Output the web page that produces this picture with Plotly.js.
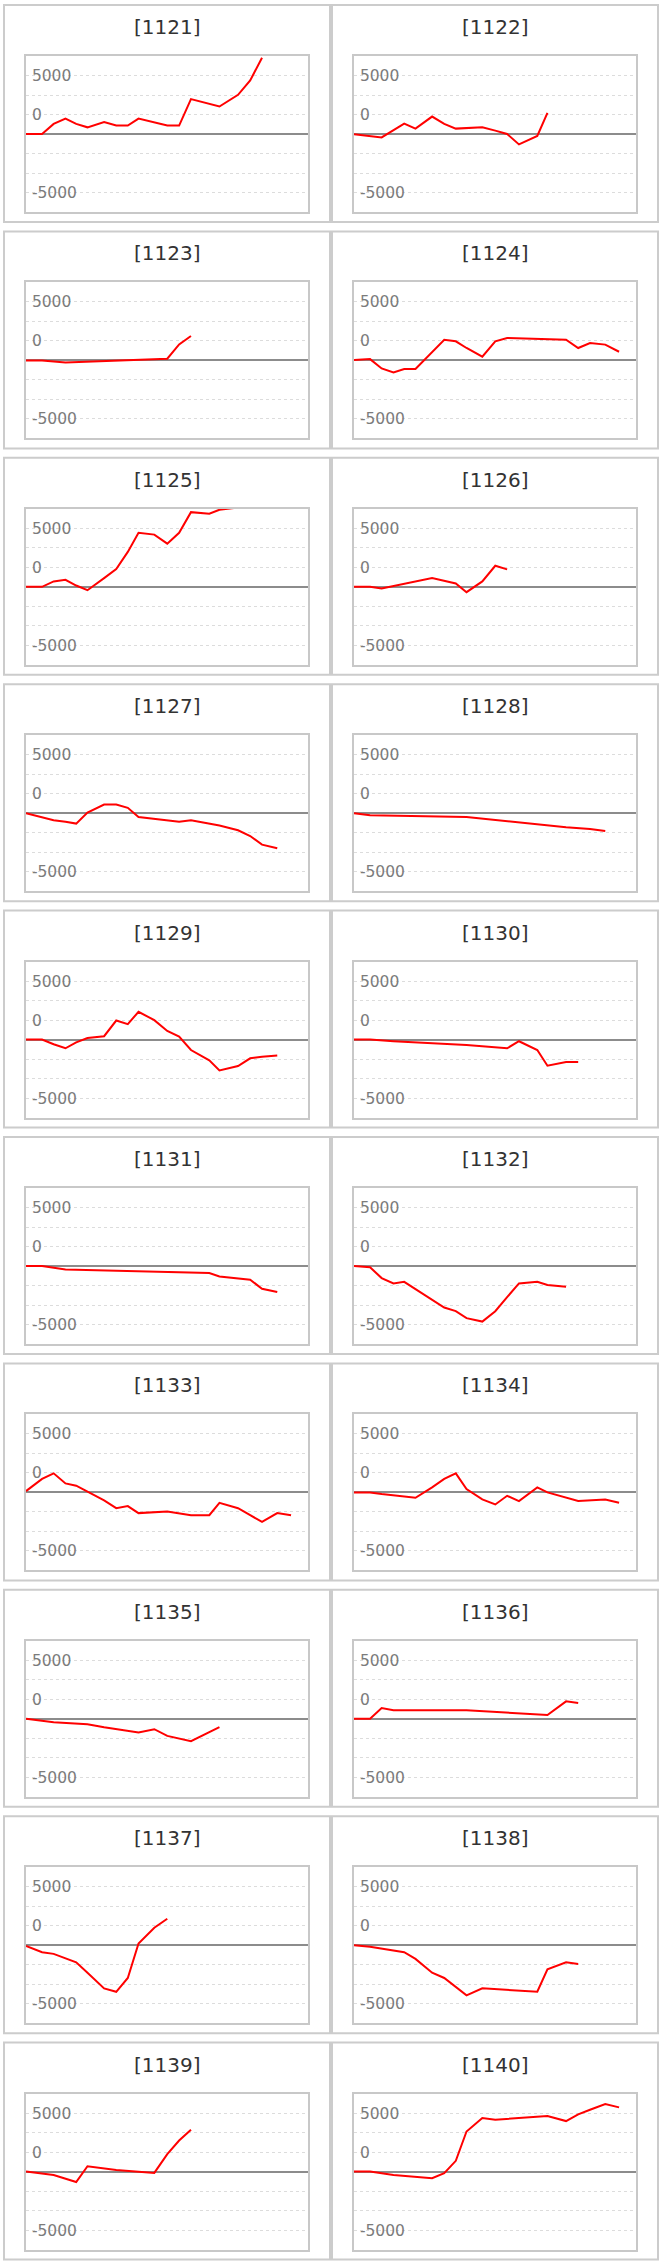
<!DOCTYPE html>
<html>
<head>
<meta charset="utf-8">
<script src="https://cdn.plot.ly/plotly-3.0.1.min.js"></script>
<style>
  html, body { margin: 0; padding: 0; background: #fff; }
  #charts { width: 662px; height: 2264px; }
</style>
</head>
<body>
<div id="charts"></div>
<script>
// x positions of the sampled days, as % of the time axis
const days = [0, 5.7, 9.8, 14.0, 17.8, 21.8, 27.7, 32.0, 36.1, 39.9, 45.5, 50.1, 54.3, 58.5, 65.0, 68.6, 75.2, 79.5, 83.7, 89.1, 94.0];

const codes = ['1121', '1122', '1123', '1124', '1125', '1126', '1127', '1128', '1129', '1130',
               '1131', '1132', '1133', '1134', '1135', '1136', '1137', '1138', '1139', '1140'];

// one series per code, null = no sample that day
const s1121 = [0, 0, 860, 1320, 860, 570, 1030, 720, 720, 1320, null, 720, 720, 2980, null, 2350, 3350, 4580, 6520, null, null];
const s1122 = [-30, null, -290, null, 890, 460, 1490, 860, 460, null, 570, 290, 0, -890, -170, 1800, null, null, null, null, null];
const s1123 = [0, 0, null, -170, null, -90, null, null, null, null, null, 140, 1370, 2090, null, null, null, null, null, null, null];
const s1124 = [30, 110, -690, -1030, -740, -740, null, 1770, 1630, 1060, 320, 1630, 1920, null, null, null, 1770, 1060, 1490, 1350, 740];
const s1125 = [0, 0, 460, 600, 110, -290, 740, 1520, 2980, 4610, 4460, 3690, 4610, 6380, 6240, 6580, 6780, null, null, null, null];
const s1126 = [0, 0, -140, null, null, null, 740, null, 290, -460, 460, 1800, 1490, null, null, null, null, null, null, null, null];
const s1127 = [0, -320, -600, -740, -890, 60, 740, 740, 460, -320, null, -600, -740, -600, -890, -1060, -1460, -1950, -2690, -3000, null];
const s1128 = [0, -170, null, null, null, null, null, null, null, -320, null, null, -690, null, null, -1090, -1200, null, -1350, -1520, null];
const s1129 = [0, 0, -400, -740, -230, 140, 290, 1630, 1320, 2380, 1660, 740, 260, -890, -1770, -2630, -2260, -1600, -1460, -1350, null];
const s1130 = [0, 0, null, -140, null, null, null, null, null, -460, null, null, -740, -140, -890, -2230, -1920, -1920, null, null, null];
const s1131 = [0, 0, null, -290, null, null, null, null, null, null, null, null, null, null, -600, -890, null, -1170, -1950, -2230, null];
const s1132 = [0, -110, -1030, -1490, -1350, -1950, -2830, -3550, -3860, -4460, -4750, -3860, -2660, -1490, -1350, -1630, -1770, null, null, null, null];
const s1133 = [110, 1150, 1630, 770, 570, 60, -690, -1350, -1170, -1770, null, -1630, null, -1950, -1950, -890, -1350, -1950, -2520, -1770, -1950];
const s1134 = [0, 0, -140, null, null, -460, 430, 1150, 1630, 290, -600, -1030, -290, -740, 430, 0, null, -740, null, -600, -890];
const s1135 = [0, null, -290, null, null, -460, -720, null, null, -1170, -890, -1460, null, -1920, null, -720, null, null, null, null, null];
const s1136 = [0, 0, 920, 740, null, null, null, null, null, 740, null, null, null, null, null, 320, 1490, 1350, null, null, null];
const s1137 = [-60, -600, -740, -1090, -1460, -2350, -3690, -3980, -2800, 140, 1490, 2260, null, null, null, null, null, null, null, null, null];
const s1138 = [0, -140, null, null, -600, -1170, -2350, -2800, null, -4290, -3690, null, null, null, -3980, -2060, -1460, -1600, null, null, null];
const s1139 = [0, null, -290, null, -890, 460, null, 140, null, null, -110, 1490, 2660, 3580, null, null, null, null, null, null, null];
const s1140 = [0, 0, null, -290, null, null, -570, -140, 920, 3430, 4580, 4440, null, null, null, 4750, 4320, 4890, 5290, 5780, 5490];

const series = [s1121, s1122, s1123, s1124, s1125, s1126, s1127, s1128, s1129, s1130,
                s1131, s1132, s1133, s1134, s1135, s1136, s1137, s1138, s1139, s1140];

// gridlines every 5000/3, labels as the original page shows them
const yTickVals = [-5000, -3333.3, -1666.7, 0, 1666.7, 3333.3, 5000];
const yTickText = ['-5000', '', '', '', '0', '', '5000'];

const W = 662, H = 2264;
const ROW_TOP = 4, ROW_STEP = 226.4, CELL_H = 219, CELL_W = 328;
const COL_LEFT = [3, 331];
const INSET_X = 23, PLOT_TOP = 52, PLOT_H = 156;

window.onload = main;

function main() {
    const data = [];
    const shapes = [];
    const annotations = [];
    const layout = {
        width: W,
        height: H,
        margin: {l: 0, r: 0, t: 0, b: 0},
        showlegend: false,
        paper_bgcolor: '#fff',
        plot_bgcolor: '#fff',
    };

    codes.forEach((code, i) => {
        const row = Math.floor(i / 2);
        const left = COL_LEFT[i % 2];
        const top = ROW_TOP + row * ROW_STEP;
        const n = i === 0 ? '' : String(i + 1);

        data.push({
            x: days,
            y: series[i],
            xaxis: 'x' + n,
            yaxis: 'y' + n,
            type: 'scatter',
            mode: 'lines',
            connectgaps: true,
            line: {color: '#ff0000', width: 2},
            hoverinfo: 'skip'
        });

        layout['xaxis' + n] = {
            domain: [(left + INSET_X) / W, (left + CELL_W - INSET_X) / W],
            anchor: 'y' + n,
            range: [0, 100],
            showgrid: false,
            zeroline: false,
            showticklabels: false,
            ticks: '',
            showline: true,
            mirror: true,
            linecolor: '#c8c8c8',
            linewidth: 2
        };

        layout['yaxis' + n] = {
            domain: [1 - (top + PLOT_TOP + PLOT_H) / H, 1 - (top + PLOT_TOP) / H],
            anchor: 'x' + n,
            range: [-6666.7, 6666.7],
            tickmode: 'array',
            tickvals: yTickVals,
            ticktext: yTickText,
            ticks: '',
            ticklabelposition: 'inside',
            ticklabelstandoff: 6,
            tickfont: {family: 'DejaVu Sans', size: 15.5, color: '#7b7b7b'},
            showgrid: true,
            gridcolor: '#dcdcdc',
            griddash: 'dot',
            gridwidth: 1,
            zeroline: true,
            zerolinecolor: '#8c8c8c',
            zerolinewidth: 2,
            showline: true,
            mirror: true,
            linecolor: '#c8c8c8',
            linewidth: 2
        };

        // cell frame
        shapes.push({
            type: 'rect',
            xref: 'paper', yref: 'paper',
            x0: (left + 1) / W, x1: (left + CELL_W - 1) / W,
            y0: 1 - (top + 1) / H, y1: 1 - (top + CELL_H - 1) / H,
            line: {color: '#cccccc', width: 2},
            layer: 'below'
        });

        annotations.push({
            xref: 'paper', yref: 'paper',
            x: (left + CELL_W / 2) / W,
            y: 1 - (top + 23) / H,
            xanchor: 'center', yanchor: 'middle',
            text: '[' + code + ']',
            showarrow: false,
            font: {family: 'DejaVu Sans', size: 20, color: '#333'}
        });
    });

    layout.shapes = shapes;
    layout.annotations = annotations;

    Plotly.newPlot('charts', data, layout, {staticPlot: true});
}
</script>
</body>
</html>
